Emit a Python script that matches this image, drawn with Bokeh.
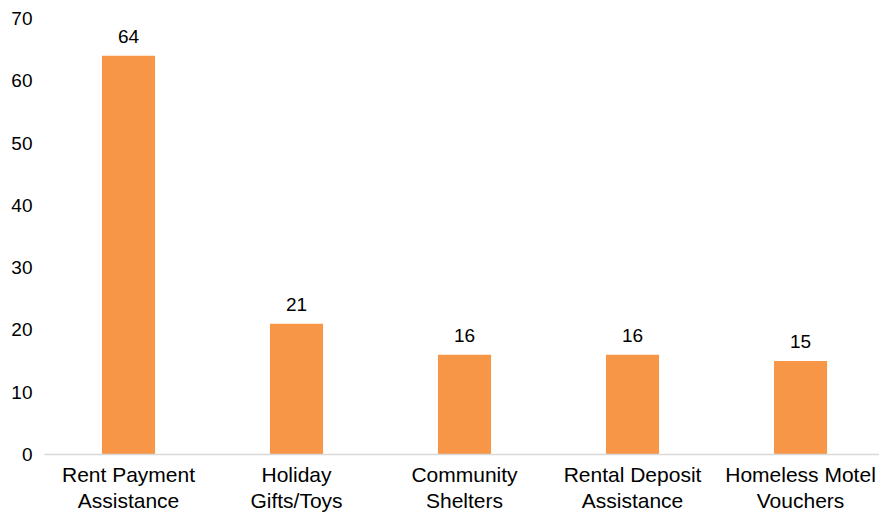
from bokeh.plotting import figure
from bokeh.models import Range1d, ColumnDataSource, FixedTicker, LabelSet
from bokeh.core.properties import value
from bokeh.embed import file_html
from bokeh.resources import INLINE

categories = ["Rent Payment\nAssistance", "Holiday\nGifts/Toys", "Community\nShelters",
              "Rental Deposit\nAssistance", "Homeless Motel\nVouchers"]
values = [64, 21, 16, 16, 15]
y_ticks = [0, 10, 20, 30, 40, 50, 60, 70]

xs = list(range(len(categories)))
src = ColumnDataSource(dict(x=xs, top=values, label=[str(v) for v in values]))

p = figure(width=879, height=514, output_backend="svg", toolbar_location=None,
           x_range=Range1d(-0.5, 4.47), y_range=Range1d(0, 70),
           min_border_left=44, min_border_right=0, min_border_top=18, min_border_bottom=0)
p.outline_line_color = None
p.grid.visible = False
p.background_fill_color = "white"
p.border_fill_color = "white"

p.vbar(x="x", top="top", width=0.316, source=src, fill_color="#F79646", line_color=None)

p.add_layout(LabelSet(x="x", y="top", text="label", source=src, text_align="center",
                      text_baseline="alphabetic", y_offset=13, text_font=value("Liberation Sans"),
                      text_font_size="19px", text_color="#000000"))

p.yaxis.ticker = FixedTicker(ticks=y_ticks)
p.yaxis.axis_line_color = None
p.yaxis.major_tick_line_color = None
p.yaxis.minor_tick_line_color = None
p.yaxis.major_tick_out = 0
p.yaxis.major_tick_in = 0
p.yaxis.major_label_standoff = 12
p.yaxis.major_label_text_font = "Liberation Sans"
p.yaxis.major_label_text_font_size = "19px"
p.yaxis.major_label_text_color = "#000000"

p.xaxis.ticker = FixedTicker(ticks=xs)
p.xaxis.major_label_overrides = {i: c for i, c in enumerate(categories)}
p.xaxis.axis_line_color = "#D9D9D9"
p.xaxis.axis_line_width = 1.5
p.xaxis.major_tick_line_color = None
p.xaxis.minor_tick_line_color = None
p.xaxis.major_tick_out = 0
p.xaxis.major_tick_in = 0
p.xaxis.major_label_standoff = 8
p.xaxis.major_label_text_font = "Liberation Sans"
p.xaxis.major_label_text_font_size = "21px"
p.xaxis.major_label_text_color = "#000000"
p.xaxis.major_label_text_line_height = 1.15

open("out.html", "w").write(file_html(p, INLINE))
